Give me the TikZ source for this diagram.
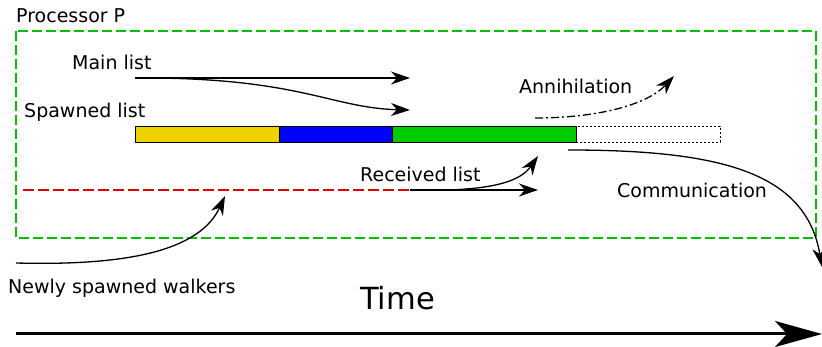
\documentclass[tikz,border=0pt]{standalone}
\usepackage{fontspec}
\setmainfont{DejaVu Sans}
\usetikzlibrary{arrows.meta}
\definecolor{procgreen}{RGB}{0,190,0}
\definecolor{barred}{RGB}{220,0,0}
\definecolor{baryellow}{RGB}{238,210,0}
\definecolor{barblue}{RGB}{0,0,255}
\definecolor{bargreen}{RGB}{0,204,0}
\tikzset{
  lbl/.style={anchor=base west, inner sep=0pt, font=\fontsize{19}{22}\selectfont},
  flow/.style={line width=1.3pt, -{Stealth[length=19pt,width=13pt,inset=6pt]}},
  seg/.style={draw=black, line width=0.9pt},
}
\begin{document}
\begin{tikzpicture}[x=1pt,y=-1pt]
\useasboundingbox (0,0) rectangle (822,347);

% processor box
\node[lbl] (proc) at (16,23) {Processor P};
\draw[procgreen, line width=2.4pt, dash pattern=on 10pt off 4pt] (16,31) rectangle (816,238);

% labels
\node[lbl] (main) at (72,70) {Main list};
\node[lbl] (spawned) at (24,118) {Spawned list};
\node[lbl] (annih) at (519,94) {Annihilation};
\node[lbl] (recv) at (360,182) {Received list};
\node[lbl] (comm) at (617,198) {Communication};
\node[lbl] (newly) at (8,294) {Newly spawned walkers};
\node[anchor=base west, inner sep=0pt, font=\fontsize{30.5}{34}\selectfont] (time) at (360,310) {Time};

% walker list buffer
\draw[seg, fill=baryellow] (135,126) rectangle (279,142);
\draw[seg, fill=barblue] (279,126) rectangle (392,142);
\draw[seg, fill=bargreen] (392,126) rectangle (576,142);
\draw[line width=0.9pt, dash pattern=on 2pt off 2pt] (576,126) rectangle (720,142);

% anchor points of the connectors
\coordinate (mainstart) at (135,78);
\coordinate (mainend) at (410,78);
\coordinate (spawnend) at (410,110);
\coordinate (annstart) at (535,118);
\coordinate (annend) at (674,76);
\coordinate (redstart) at (23,190);
\coordinate (recvstart) at (410,190);
\coordinate (recvend) at (538,190);
\coordinate (recvup) at (538,156);
\coordinate (commstart) at (568,150);
\coordinate (commend) at (822,267);
\coordinate (newstart) at (16,263);
\coordinate (newend) at (225,196);
\coordinate (timestart) at (16,334);
\coordinate (timeend) at (822,334);

% main list and spawned list
\draw[flow] (mainstart) -- (mainend);
\draw[flow] (mainstart) .. controls (300,77) and (330,108) .. (spawnend);

% annihilation
\draw[flow, dash pattern=on 8pt off 3pt on 2pt off 3pt] (annstart) .. controls (600,118) and (648,104) .. (annend);

% received list
\draw[barred, line width=1.2pt, dash pattern=on 11pt off 4pt] (redstart) -- (recvstart);
\draw[flow] (recvstart) -- (recvend);
\draw[flow] (recvstart) .. controls (490,192) and (520,182) .. (recvup);

% communication
\draw[flow] (commstart) .. controls (720,150) and (806,172) .. (commend);

% newly spawned walkers
\draw[flow] (newstart) .. controls (130,266) and (200,250) .. (newend);

% time axis
\draw[line width=3pt, -{Stealth[length=47pt,width=26pt,inset=12pt]}] (timestart) -- (timeend);
\end{tikzpicture}
\end{document}
